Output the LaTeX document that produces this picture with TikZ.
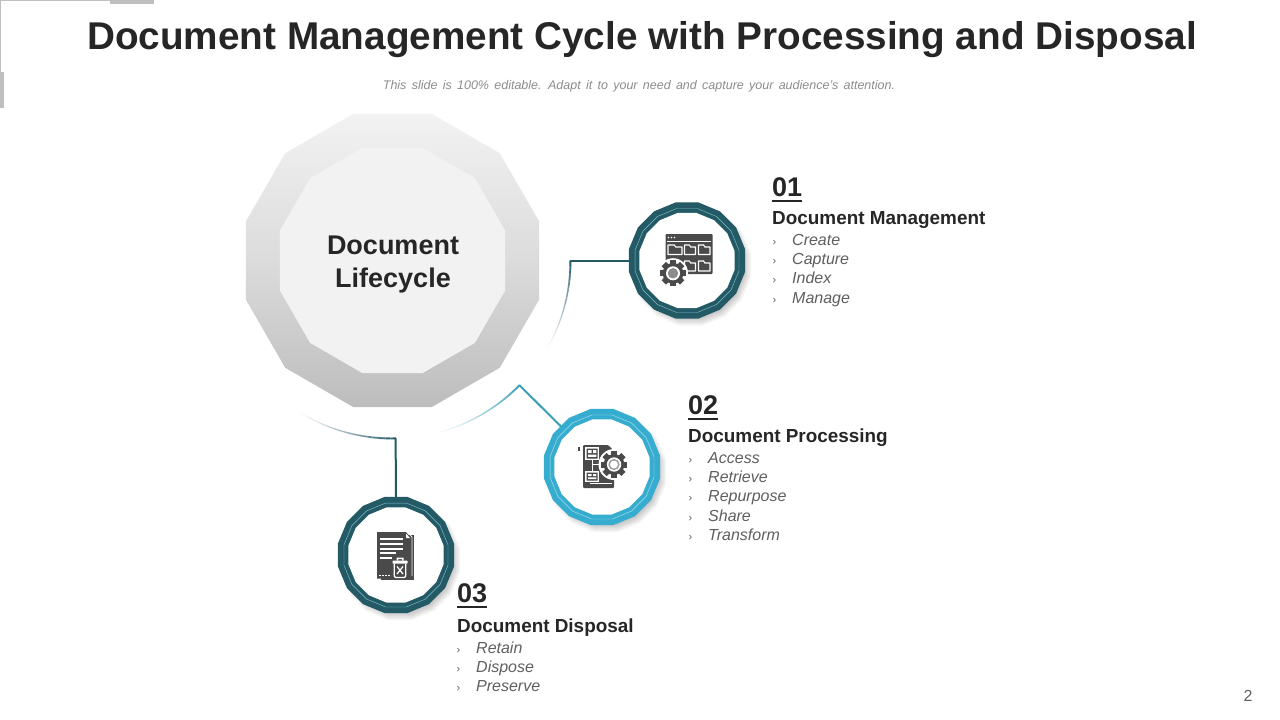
\documentclass[tikz,border=0pt]{standalone}
\usepackage{fontspec}
\setmainfont{Liberation Sans}
\usetikzlibrary{shapes.geometric}
\definecolor{ink}{HTML}{262626}
\definecolor{body}{HTML}{5F5F5F}
\definecolor{teal}{HTML}{235A66}
\definecolor{tealline}{HTML}{7FBDC6}
\definecolor{sky}{HTML}{36ACCF}
\definecolor{skyline}{HTML}{A5E0EF}
\definecolor{skyconn}{HTML}{3A9FB6}
\definecolor{icon}{HTML}{4A4A4A}
\definecolor{frame}{HTML}{BFBFBF}
\newcommand{\fs}[1]{\fontsize{#1}{#1}\selectfont}
\tikzset{
  poly/.style={regular polygon,regular polygon sides=12,inner sep=0pt,outer sep=0pt,draw=none,minimum size=#1},
  ringpoly/.style={regular polygon,regular polygon sides=16,inner sep=0pt,outer sep=0pt,draw=none,minimum size=#1},
  num/.style={anchor=base west,inner sep=0pt,font=\bfseries\fs{27},text=ink},
  head/.style={anchor=base west,inner sep=0pt,font=\bfseries\fs{18.9},text=ink},
  item/.style={anchor=base west,inner sep=0pt,font=\itshape\fs{16},text=body},
  chev/.style={anchor=base west,inner sep=0pt,font=\fs{11},text=body},
  conn/.style={line width=2pt}
}
% ring: name,x,y,colour,line colour
\newcommand{\ringnode}[5]{%
  \foreach \k in {0,...,7}{\pgfmathsetmacro{\ss}{2*1.0196*(51+\k*1.3)}%
    \node[ringpoly=\ss pt,fill=black,fill opacity=0.035] (#1s\k) at (#2+4,#3+5) {};}
  \node[ringpoly=118.3pt,fill=#4] (#1) at (#2,#3) {};
  \node[ringpoly=106pt,draw=#5,line width=0.45pt] (#1l) at (#2,#3) {};
  \node[ringpoly=97pt,fill=white] (#1w) at (#2,#3) {};
}
% arc: start angle, end angle, colour
\newcommand{\fadearc}[3]{%
  \foreach \i in {0,...,39}{%
    \pgfmathsetmacro{\aa}{#1+(#2-#1)*\i/40}%
    \pgfmathsetmacro{\ab}{#1+(#2-#1)*(\i+1)/40}%
    \pgfmathsetmacro{\mx}{100*(1-\i/40)^1.2}%
    \pgfmathsetmacro{\wd}{2-1.3*\i/40}%
    \draw[color=#3!\mx!white,line width=\wd pt] ([shift={(\aa:178)}]cc) -- ([shift={(\ab:178)}]cc);}
}
% gear: x,y,outer radius
\newcommand{\geargl}[3]{%
  \fill[white] (#1,#2) circle ({#3*1.16});
  \foreach \t in {0,45,...,315}{%
    \fill[icon,rotate around={\t:(#1,#2)}] (#1-#3*0.24,#2-#3) rectangle (#1+#3*0.24,#2-#3*0.6);}
  \fill[icon] (#1,#2) circle ({#3*0.8});
  \fill[white] (#1,#2) circle ({#3*0.54});
  \fill[black!45] (#1,#2) circle ({#3*0.4});
}
% folder: x,y,w,h
\newcommand{\foldergl}[4]{%
  \draw[white,line width=1.1pt,line join=round] (#1,#2) -- (#1,#2+#4) -- (#1+#3,#2+#4) -- (#1+#3,#2+2) -- (#1+#3*0.55,#2+2) -- (#1+#3*0.45,#2) -- cycle;
}
\begin{document}
\begin{tikzpicture}[x=1pt,y=-1pt]
\useasboundingbox (0,0) rectangle (1280,720);
\fill[white] (0,0) rectangle (1280,720);
% corner frame
\draw[frame,line width=1pt] (0.8,72) -- (0.8,0.8) -- (110,0.8);
\fill[frame] (110,0) rectangle (154,3.5);
\fill[frame] (0,72) rectangle (3.5,108);
% title
\node[anchor=base,inner sep=0pt,font=\bfseries\fs{38.7},text=ink] (title) at (642,49) {Document Management Cycle with Processing and Disposal};
\node[anchor=base,inner sep=0pt,font=\itshape\fs{12.5},text=black!45] (subtitle) at (639,89) {\spaceskip=5.3pt This slide is 100\% editable. Adapt it to your need and capture your audience's attention.};
\node[anchor=base,inner sep=0pt,font=\fs{16},text=body] (page) at (1248,701) {2};
% centre
\coordinate (cc) at (392.5,260.5);
\node[poly=303.4pt,top color=black!5,bottom color=black!26,middle color=black!14] (main) at (cc) {};
\node[poly=233pt,fill=black!5] (maininner) at (cc) {};
\node[inner sep=0pt,align=center,font=\bfseries\fs{27},text=ink] (mainlabel) at (393,264.5) {Document\\[6pt]Lifecycle};
% rings
\ringnode{n1}{687}{260.5}{teal}{tealline}
\ringnode{n2}{602}{467}{sky}{skyline}
\ringnode{n3}{396}{555}{teal}{tealline}
% connectors
\coordinate (e1) at ([shift={(0:178)}]cc);
\coordinate (e2) at ([shift={(44.5:178)}]cc);
\coordinate (e3) at ([shift={(89:178)}]cc);
\fadearc{0}{30}{teal}
\fadearc{44.5}{76}{skyconn}
\fadearc{89}{122}{teal}
\draw[conn,teal,line cap=round] (n1.west) -- (e1);
\draw[conn,skyconn,line cap=round] (e2) -- (n2);
\draw[conn,teal,line cap=round] (e3) -- (n3.north);
% icon 1
\fill[icon,rounded corners=0.8pt] (665.5,234) rectangle (712.5,274);
\foreach \d in {668.5,671.5,674.5}{\fill[white] (\d,237.5) circle (0.9);}
\draw[white,line width=0.8pt] (667,241.5) -- (711,241.5);
\foldergl{668}{245}{14}{9.5}
\foldergl{684.5}{245}{11}{9.5}
\foldergl{698.5}{245}{11.5}{9.5}
\foldergl{698.5}{261}{11.5}{10}
\foldergl{684.5}{261}{11}{10}
\geargl{673}{273.3}{13}
% icon 2
\fill[icon,rounded corners=1pt] (583,445) -- (608,445) -- (614,451) -- (614,488) -- (583,488) -- cycle;
\fill[icon] (577.5,446.5) rectangle (580,451);
\draw[white,line width=1pt] (592,460) -- (592,471) (592,464.5) -- (604,464.5);
\draw[white,line width=0.8pt] (590,483.5) -- (612,483.5);
\fill[white] (585,447) rectangle (599,460);
\fill[white] (585,471) rectangle (599,482);
\fill[icon] (586.5,448.5) rectangle (597.5,458.5) (586.5,472.5) rectangle (597.5,480.5);
\fill[white] (588,450) rectangle (591.5,453) (593,450) rectangle (596.3,453) (588,454.5) rectangle (596.3,456.8);
\fill[white] (588,474) rectangle (591.5,476) (593,474) rectangle (596.3,476) (588,477.3) rectangle (596.3,479.2);
\fill[white] (614,464.5) circle (15.5);
\foreach \t in {0,45,...,315}{\fill[icon,rotate around={\t:(614,464.5)}] (611,451.2) rectangle (617,456);}
\fill[icon] (614,464.5) circle (10.4);
\fill[white] (614,464.5) circle (7.2);
\fill[black!40] (614,464.5) circle (5.6);
\fill[white] (614,464.5) circle (4);
% icon 3
\fill[icon] (381,535) -- (413.5,535) -- (413.5,580) -- (381,580) -- cycle;
\draw[white,line width=0.7pt] (377.5,531.5) -- (407,531.5) -- (412,537) -- (412,576);
\fill[icon] (377,532) -- (406,532) -- (411,538) -- (411,578.5) -- (377,578.5) -- cycle;
\fill[white] (406,533.5) -- (410,538) -- (406,538) -- cycle;
\foreach \ly/\lx in {538/403,543/403,547.5/403,552/396,556.5/392}{\fill[white] (380,\ly) rectangle (\lx,\ly+2);}
\foreach \dx in {379,382,385,388}{\fill[white] (\dx,574.5) rectangle (\dx+1.8,576.4);}
\fill[white,rounded corners=0.5pt] (392.5,560.5) rectangle (407.5,563.5);
\fill[white] (396.5,557.5) rectangle (403.5,559) (396.5,557.5) rectangle (398,560.5) (402,557.5) rectangle (403.5,560.5);
\draw[white,line width=1.3pt] (394.3,563.5) -- (394.3,576) -- (395.5,577.5) -- (404.5,577.5) -- (405.7,576) -- (405.7,563.5);
\draw[white,line width=1.3pt] (397,566.5) -- (403,574) (403,566.5) -- (397,574);
% texts 1
\node[num] (t1n) at (772,196) {01};
\draw[ink,line width=2pt] (t1n.base west)++(0,4.5) -- ++(30,0);
\node[head] (t1h) at (772,224) {Document Management};
\foreach \n/\y/\s in {a/245/Create,b/264/Capture,c/283/Index,d/303/Manage}{
  \node[chev] (t1c\n) at (772.5,\y) {›};
  \node[item] (t1\n) at (792,\y) {\s};}
% texts 2
\node[num] (t2n) at (688,414) {02};
\draw[ink,line width=2pt] (t2n.base west)++(0,4.5) -- ++(30,0);
\node[head] (t2h) at (688,442) {Document Processing};
\foreach \n/\y/\s in {a/463/Access,b/482/Retrieve,c/501/Repurpose,d/521/Share,e/540/Transform}{
  \node[chev] (t2c\n) at (688.5,\y) {›};
  \node[item] (t2\n) at (708,\y) {\s};}
% texts 3
\node[num] (t3n) at (457,602) {03};
\draw[ink,line width=2pt] (t3n.base west)++(0,4.5) -- ++(30,0);
\node[head] (t3h) at (457,632) {Document Disposal};
\foreach \n/\y/\s in {a/653/Retain,b/672/Dispose,c/691/Preserve}{
  \node[chev] (t3c\n) at (456.5,\y) {›};
  \node[item] (t3\n) at (476,\y) {\s};}
\end{tikzpicture}
\end{document}
